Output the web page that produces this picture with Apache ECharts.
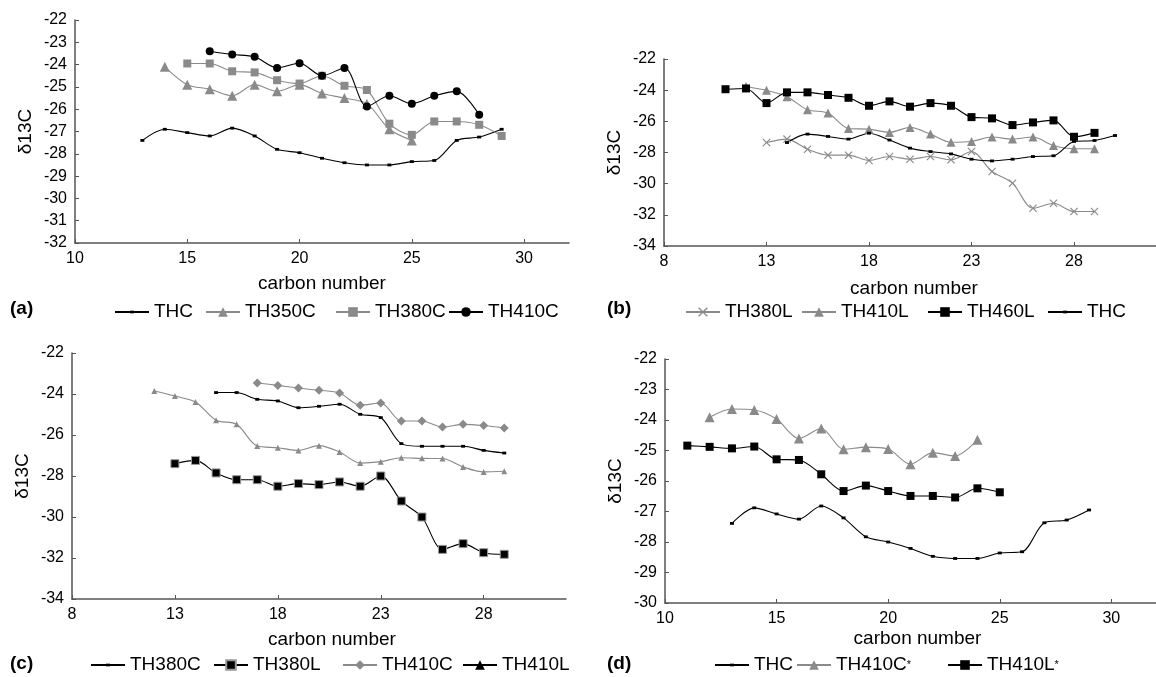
<!DOCTYPE html>
<html><head><meta charset="utf-8">
<script src="https://cdn.jsdelivr.net/npm/echarts@6/dist/echarts.min.js"></script>
<style>html,body{margin:0;padding:0;background:#fff}#c{width:1156px;height:677px}</style>
</head><body><div id="c"></div>
<script>
// ---------- data (carbon number, δ13C) ----------
// panel (a)
const a_THC_x = [13,14,15,16,17,18,19,20,21,22,23,24,25,26,27,28,29];
const a_THC_y = [-27.4,-26.9,-27.05,-27.2,-26.85,-27.2,-27.8,-27.95,-28.2,-28.4,-28.5,-28.5,-28.35,-28.3,-27.4,-27.25,-26.9];
const a_TH350C_x = [14,15,16,17,18,19,20,21,22,23,24,25];
const a_TH350C_y = [-24.1,-24.9,-25.1,-25.4,-24.9,-25.2,-24.9,-25.3,-25.5,-25.75,-26.9,-27.4];
const a_TH380C_x = [15,16,17,18,19,20,21,22,23,24,25,26,27,28,29];
const a_TH380C_y = [-23.95,-23.95,-24.3,-24.35,-24.7,-24.85,-24.5,-24.95,-25.14,-26.65,-27.15,-26.55,-26.55,-26.7,-27.2];
const a_TH410C_x = [16,17,18,19,20,21,22,23,24,25,26,27,28];
const a_TH410C_y = [-23.4,-23.55,-23.65,-24.15,-23.94,-24.5,-24.15,-25.88,-25.4,-25.75,-25.4,-25.2,-26.25];
// panel (b)
const b_TH380L_x = [13,14,15,16,17,18,19,20,21,22,23,24,25,26,27,28,29];
const b_TH380L_y = [-27.36,-27.14,-27.79,-28.17,-28.17,-28.51,-28.26,-28.43,-28.26,-28.47,-27.94,-29.22,-29.97,-31.58,-31.26,-31.79,-31.79];
const b_TH410L_x = [12,13,14,15,16,17,18,19,20,21,22,23,24,25,26,27,28,29];
const b_TH410L_y = [-23.76,-24.01,-24.42,-25.26,-25.47,-26.46,-26.5,-26.71,-26.39,-26.82,-27.34,-27.29,-27.01,-27.14,-27.01,-27.55,-27.76,-27.76];
const b_TH460L_x = [11,12,13,14,15,16,17,18,19,20,21,22,23,24,25,26,27,28,29];
const b_TH460L_y = [-23.94,-23.89,-24.83,-24.14,-24.14,-24.31,-24.49,-25.0,-24.72,-25.06,-24.83,-25.0,-25.73,-25.81,-26.24,-26.07,-25.94,-26.99,-26.74];
const b_THC_x = [14,15,16,17,18,19,20,21,22,23,24,25,26,27,28,29,30];
const b_THC_y = [-27.36,-26.82,-26.97,-27.14,-26.76,-27.2,-27.72,-27.94,-28.09,-28.43,-28.54,-28.43,-28.26,-28.21,-27.29,-27.23,-26.91];
// panel (c)
const c_TH380C_x = [15,16,17,18,19,20,21,22,23,24,25,26,27,28,29];
const c_TH380C_y = [-23.93,-23.93,-24.26,-24.34,-24.67,-24.6,-24.5,-24.99,-25.15,-26.42,-26.55,-26.55,-26.55,-26.75,-26.88];
const c_TH380L_x = [13,14,15,16,17,18,19,20,21,22,23,24,25,26,27,28,29];
const c_TH380L_y = [-27.4,-27.24,-27.85,-28.18,-28.18,-28.5,-28.37,-28.42,-28.29,-28.5,-28.0,-29.22,-30.0,-31.58,-31.3,-31.74,-31.82];
const c_TH410C_x = [17,18,19,20,21,22,23,24,25,26,27,28,29];
const c_TH410C_y = [-23.46,-23.58,-23.71,-23.82,-23.95,-24.55,-24.44,-25.32,-25.32,-25.61,-25.48,-25.54,-25.66];
const c_TH410L_x = [12,13,14,15,16,17,18,19,20,21,22,23,24,25,26,27,28,29];
const c_TH410L_y = [-23.85,-24.1,-24.39,-25.28,-25.48,-26.54,-26.62,-26.75,-26.52,-26.83,-27.37,-27.3,-27.11,-27.14,-27.15,-27.56,-27.8,-27.77];
// panel (d)
const d_THC_x = [13,14,15,16,17,18,19,20,21,22,23,24,25,26,27,28,29];
const d_THC_y = [-27.39,-26.88,-27.08,-27.25,-26.82,-27.21,-27.83,-28.0,-28.21,-28.47,-28.54,-28.54,-28.36,-28.32,-27.37,-27.28,-26.95];
const d_TH410C_x = [12,13,14,15,16,17,18,19,20,21,22,23,24];
const d_TH410C_y = [-23.91,-23.64,-23.67,-23.97,-24.61,-24.28,-24.96,-24.89,-24.95,-25.45,-25.07,-25.18,-24.65];
const d_TH410L_x = [11,12,13,14,15,16,17,18,19,20,21,22,23,24,25];
const d_TH410L_y = [-24.84,-24.88,-24.93,-24.87,-25.29,-25.31,-25.78,-26.33,-26.15,-26.33,-26.49,-26.49,-26.54,-26.24,-26.37];

// axis settings
const xMin = [10, 8, 8, 10], xMax = [32, 32, 32, 32], xInt = [5, 5, 5, 5];
const yMin = [-32, -34, -34, -30], yMax = [-22, -22, -22, -22], yInt = [1, 2, 2, 1];
const panelLabels = ['(a)', '(b)', '(c)', '(d)'];

// ---------- styles ----------
const FONT = 'Liberation Sans, Arial, Helvetica, sans-serif';
const BLACK = '#000', GRAY = '#8a8a8a', AXIS = '#555';
const DASH = 'path://M0,0M10,10M3,3.6H7V6.4H3Z';
const CROSS = 'path://M0,1L1,0L5,4L9,0L10,1L6,5L10,9L9,10L5,6L1,10L0,9L4,5Z';

const pair = (xs, ys) => xs.map((x, i) => [x, ys[i]]);

function ser(name, gi, xs, ys, color, symbol, size, extra) {
  return Object.assign({
    name: name, type: 'line', xAxisIndex: gi, yAxisIndex: gi,
    data: pair(xs, ys), smooth: 0.3, symbol: symbol, symbolSize: size,
    showSymbol: true, animation: false,
    lineStyle: { color: color, width: 1.1 },
    itemStyle: { color: color },
    emphasis: { disabled: true }
  }, extra || {});
}

const series = [
  ser('a:THC', 0, a_THC_x, a_THC_y, BLACK, DASH, 10),
  ser('a:TH350C', 0, a_TH350C_x, a_TH350C_y, GRAY, 'triangle', 10),
  ser('a:TH380C', 0, a_TH380C_x, a_TH380C_y, GRAY, 'rect', 8),
  ser('a:TH410C', 0, a_TH410C_x, a_TH410C_y, BLACK, 'circle', 8),

  ser('b:TH380L', 1, b_TH380L_x, b_TH380L_y, GRAY, CROSS, 8),
  ser('b:TH410L', 1, b_TH410L_x, b_TH410L_y, GRAY, 'triangle', 9),
  ser('b:TH460L', 1, b_TH460L_x, b_TH460L_y, BLACK, 'rect', 8),
  ser('b:THC', 1, b_THC_x, b_THC_y, BLACK, DASH, 10),

  ser('c:TH380C', 2, c_TH380C_x, c_TH380C_y, BLACK, DASH, 10),
  ser('c:TH380L', 2, c_TH380L_x, c_TH380L_y, BLACK, 'rect', 8, { itemStyle: { color: BLACK, borderColor: '#999', borderWidth: 1 } }),
  ser('c:TH410C', 2, c_TH410C_x, c_TH410C_y, GRAY, 'diamond', 9),
  ser('c:TH410L', 2, c_TH410L_x, c_TH410L_y, GRAY, 'triangle', 6),

  ser('d:THC', 3, d_THC_x, d_THC_y, BLACK, DASH, 10),
  ser('d:TH410C*', 3, d_TH410C_x, d_TH410C_y, GRAY, 'triangle', 10),
  ser('d:TH410L*', 3, d_TH410L_x, d_TH410L_y, BLACK, 'rect', 8)
];

const grids = [
  { left: 75, top: 20, width: 494, height: 223 },
  { left: 664, top: 59, width: 496, height: 187 },
  { left: 72, top: 353, width: 494, height: 246 },
  { left: 665, top: 359, width: 495, height: 244 }
];
const xNameGap = [31, 33, 31, 26];
const xNamePad = [[0,0,0,0],[0,0,0,8],[0,0,0,26],[0,0,0,14]];

const xAxes = grids.map((g, i) => ({
  type: 'value', gridIndex: i, min: xMin[i], max: xMax[i], interval: xInt[i],
  name: 'carbon number', nameLocation: 'middle', nameGap: xNameGap[i],
  nameTextStyle: { fontSize: 19, color: '#000', fontFamily: FONT, padding: xNamePad[i] },
  axisLine: { show: true, onZero: false, lineStyle: { color: AXIS, width: 1.5 } },
  axisTick: { show: true, inside: true, length: 4, lineStyle: { color: AXIS } },
  axisLabel: { fontSize: 16, color: '#000', fontFamily: FONT, margin: 8, showMaxLabel: false },
  splitLine: { show: false }
}));
const yAxes = grids.map((g, i) => ({
  type: 'value', gridIndex: i, min: yMin[i], max: yMax[i], interval: yInt[i],
  name: 'δ13C', nameLocation: 'middle', nameGap: 40, nameRotate: 90,
  nameTextStyle: { fontSize: 19, color: '#000', fontFamily: FONT },
  axisLine: { show: true, onZero: false, lineStyle: { color: AXIS, width: 1.5 } },
  axisTick: { show: true, inside: true, length: 4, lineStyle: { color: AXIS } },
  axisLabel: { fontSize: 16, color: '#000', fontFamily: FONT, margin: 8 },
  splitLine: { show: false }
}));

// legends: one per item, positioned like the reference
function leg(item, left, top) {
  return {
    data: [item], left: left, top: top, itemWidth: 34, itemHeight: 12, itemGap: 0,
    selectedMode: false, padding: 0,
    formatter: n => n.split(':')[1].replace('*', '{s|*}'),
    textStyle: { fontSize: 19, color: '#000', fontFamily: FONT, lineHeight: 22,
      rich: { s: { fontSize: 11, color: '#000', fontFamily: FONT, verticalAlign: 'middle' } } }
  };
}
const topAB = 301, topCD = 654;
const legends = [
  leg('a:THC', 114, topAB), leg('a:TH350C', 205, topAB), leg('a:TH380C', 335, topAB), leg('a:TH410C', 448, topAB),
  leg('b:TH380L', 685, topAB), leg('b:TH410L', 801, topAB), leg('b:TH460L', 927, topAB), leg('b:THC', 1047, topAB),
  leg('c:TH380C', 90, topCD), leg('c:TH380L', 213, topCD), leg('c:TH410C', 342, topCD),
  leg({ name: 'c:TH410L', itemStyle: { color: BLACK }, lineStyle: { color: BLACK } }, 462, topCD),
  leg('d:THC', 714, topCD), leg('d:TH410C*', 796, topCD), leg('d:TH410L*', 947, topCD)
];

const labelPos = [[10, 310], [607, 310], [10, 665], [607, 665]];
const graphics = panelLabels.map((t, i) => ({
  type: 'text', left: labelPos[i][0], top: labelPos[i][1] - 11,
  style: { text: t, font: 'bold 19px ' + FONT, fill: '#000' }
}));

const chart = echarts.init(document.getElementById('c'), null, { renderer: 'canvas' });
chart.setOption({
  animation: false,
  backgroundColor: '#fff',
  grid: grids,
  xAxis: xAxes,
  yAxis: yAxes,
  legend: legends,
  graphic: graphics,
  series: series
});
</script></body></html>
